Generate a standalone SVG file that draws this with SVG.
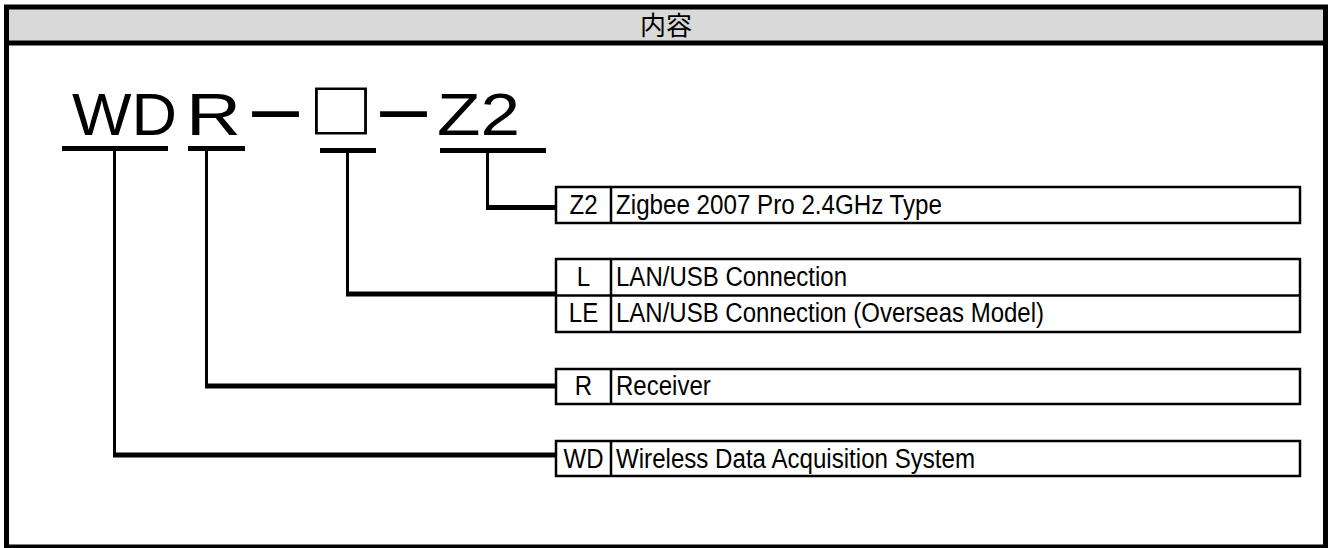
<svg xmlns="http://www.w3.org/2000/svg" width="1328" height="548" viewBox="0 0 1328 548">
<style>
.big{font-family:"Liberation Sans",Arial,sans-serif;font-size:59px;fill:#000}
.cjk{font-family:"Noto Sans CJK JP","Noto Sans CJK SC",sans-serif;fill:#000}
.t{font-family:"Liberation Sans",Arial,sans-serif;font-size:27px;fill:#000}
.c{text-anchor:middle}
.ul{stroke:#000;stroke-width:5;fill:none}
.stem{stroke:#000;stroke-width:3;fill:none}
.hz{stroke:#000;stroke-width:5;fill:none}
.box{stroke:#000;stroke-width:2.5;fill:#fff}
.div{stroke:#000;stroke-width:2.5}
</style>
<g id="frame">
<rect x="6.5" y="9" width="1319" height="32" fill="#d9d9d9"/>
<rect x="6.5" y="7" width="1319" height="540" fill="none" stroke="#000" stroke-width="5"/>
<line x1="4" y1="43" x2="1328" y2="43" stroke="#000" stroke-width="5"/>
<text class="cjk" x="666" y="35" font-size="26" text-anchor="middle">内容</text>
</g>
<g id="code">
<text class="big" x="72" y="135" textLength="105" lengthAdjust="spacingAndGlyphs">WD</text>
<text class="big" x="186" y="135" textLength="55" lengthAdjust="spacingAndGlyphs">R</text>
<text class="cjk" x="242.5" y="135" font-size="56" font-weight="700" textLength="66" lengthAdjust="spacingAndGlyphs">－</text>
<text class="cjk" x="308.5" y="133" font-size="58" font-weight="700" textLength="65" lengthAdjust="spacingAndGlyphs">□</text>
<text class="cjk" x="370.5" y="135" font-size="56" font-weight="700" textLength="66" lengthAdjust="spacingAndGlyphs">－</text>
<text class="big" x="437" y="135" textLength="83" lengthAdjust="spacingAndGlyphs">Z2</text>
<line class="ul" x1="62" y1="148.5" x2="168" y2="148.5"/>
<line class="ul" x1="188" y1="148.5" x2="245" y2="148.5"/>
<line class="ul" x1="320" y1="150.5" x2="376" y2="150.5"/>
<line class="ul" x1="440" y1="150.5" x2="546" y2="150.5"/>
</g>
<g id="connectors">
<line class="stem" x1="487.5" y1="151" x2="487.5" y2="209"/>
<line class="hz" x1="486" y1="207.5" x2="556" y2="207.5"/>
<line class="stem" x1="347.5" y1="151" x2="347.5" y2="296"/>
<line class="hz" x1="346" y1="294" x2="556" y2="294"/>
<line class="stem" x1="206.5" y1="149" x2="206.5" y2="388"/>
<line class="hz" x1="205" y1="386" x2="556" y2="386"/>
<line class="stem" x1="114.5" y1="149" x2="114.5" y2="457"/>
<line class="hz" x1="113" y1="455" x2="556" y2="455"/>
</g>
<g id="node-z2">
<rect class="box" x="556" y="187" width="744" height="36"/>
<line class="div" x1="611" y1="187" x2="611" y2="223"/>
<text class="t c" x="583.5" y="213.5" textLength="28" lengthAdjust="spacingAndGlyphs">Z2</text>
<text class="t" x="616" y="213.5" textLength="326" lengthAdjust="spacingAndGlyphs">Zigbee 2007 Pro 2.4GHz Type</text>
</g>
<g id="node-l">
<rect class="box" x="556" y="259" width="744" height="73"/>
<line class="div" x1="556" y1="295.5" x2="1300" y2="295.5"/>
<line class="div" x1="611" y1="259" x2="611" y2="332"/>
<text class="t c" x="583.5" y="285.5" textLength="13.4" lengthAdjust="spacingAndGlyphs">L</text>
<text class="t" x="616" y="285.5" textLength="231" lengthAdjust="spacingAndGlyphs">LAN/USB Connection</text>
<text class="t c" x="583.5" y="322" textLength="29.4" lengthAdjust="spacingAndGlyphs">LE</text>
<text class="t" x="616" y="322" textLength="428" lengthAdjust="spacingAndGlyphs">LAN/USB Connection (Overseas Model)</text>
</g>
<g id="node-r">
<rect class="box" x="556" y="369" width="744" height="35"/>
<line class="div" x1="611" y1="369" x2="611" y2="404"/>
<text class="t c" x="583.5" y="395" textLength="17.3" lengthAdjust="spacingAndGlyphs">R</text>
<text class="t" x="616" y="395" textLength="94.8" lengthAdjust="spacingAndGlyphs">Receiver</text>
</g>
<g id="node-wd">
<rect class="box" x="556" y="441" width="744" height="35"/>
<line class="div" x1="611" y1="441" x2="611" y2="476"/>
<text class="t c" x="583.5" y="467.5" textLength="40" lengthAdjust="spacingAndGlyphs">WD</text>
<text class="t" x="616" y="467.5" textLength="359" lengthAdjust="spacingAndGlyphs">Wireless Data Acquisition System</text>
</g>
</svg>
